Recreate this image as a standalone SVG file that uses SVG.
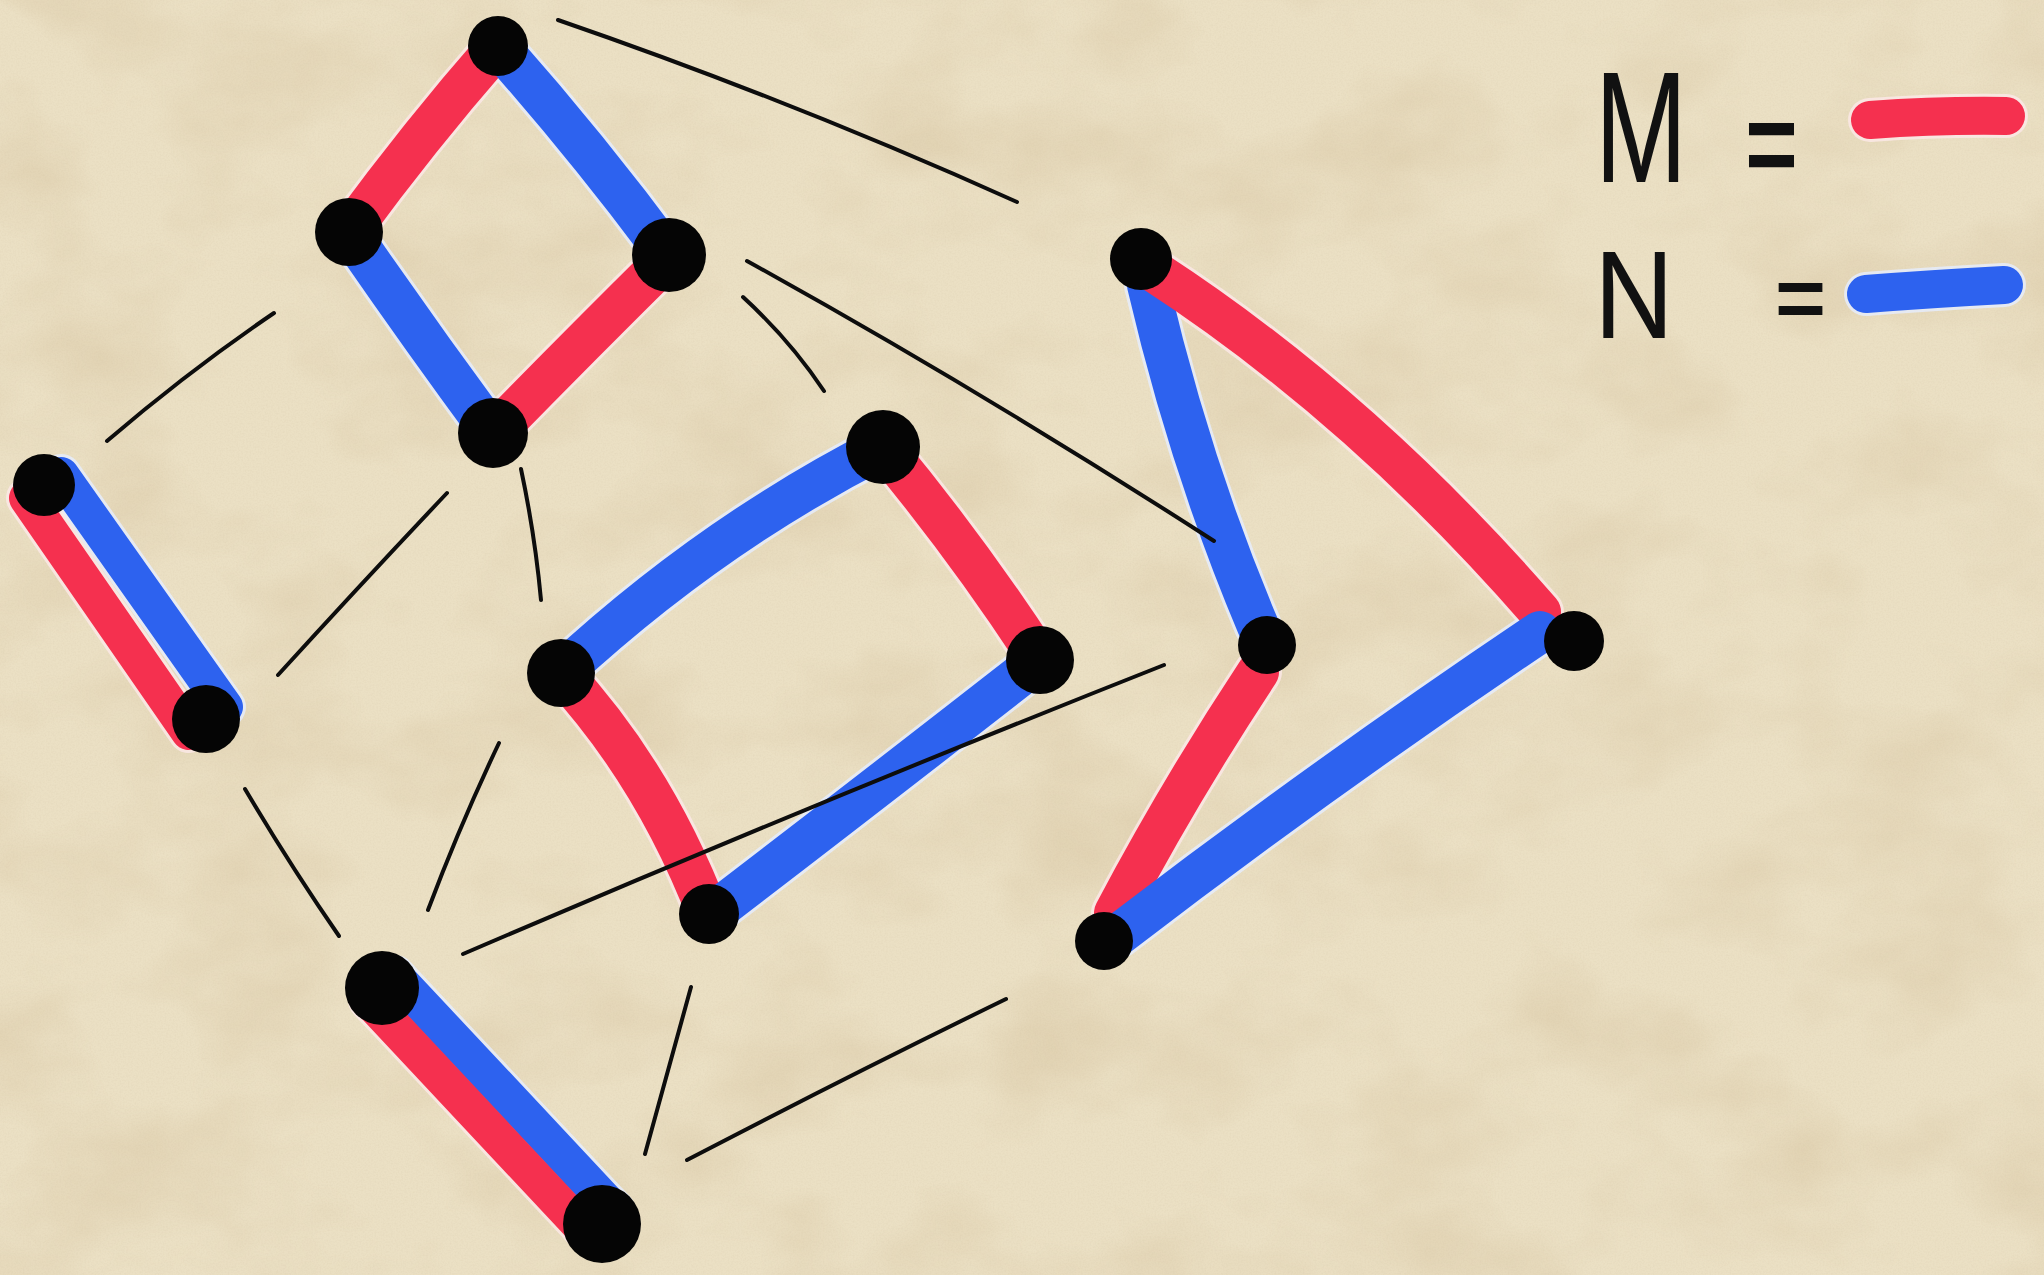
<svg xmlns="http://www.w3.org/2000/svg" width="2044" height="1275" viewBox="0 0 2044 1275">
<defs>
<filter id="paper" x="0" y="0" width="100%" height="100%">
<feTurbulence type="fractalNoise" baseFrequency="0.006 0.009" numOctaves="4" seed="7"/>
<feColorMatrix type="matrix" values="0 0 0 0 0.70  0 0 0 0 0.58  0 0 0 0 0.38  0 0 0 1.2 -0.5"/>
</filter>
<filter id="grain" x="0" y="0" width="100%" height="100%">
<feTurbulence type="fractalNoise" baseFrequency="0.6" numOctaves="2" seed="2"/>
<feColorMatrix type="matrix" values="0 0 0 0 0.55  0 0 0 0 0.45  0 0 0 0 0.3  0 0 0 0.5 -0.2"/>
</filter>
<style>
.red{fill:none;stroke:#f5304f;stroke-width:42;stroke-linecap:round;stroke-linejoin:round}
.blue{fill:none;stroke:#2d62ef;stroke-width:42;stroke-linecap:round;stroke-linejoin:round}
.rh{fill:none;stroke:#fde8e8;stroke-opacity:0.8;stroke-width:48;stroke-linecap:round}
.bh{fill:none;stroke:#e6eeff;stroke-opacity:0.8;stroke-width:48;stroke-linecap:round}
.dbl{stroke-width:36}
.dblh{stroke-width:42}
.thin{fill:none;stroke:#0d0d0d;stroke-width:4;stroke-linecap:round}
.dot{fill:#050505}
.lbl{font-family:Inter,"DejaVu Sans","Liberation Sans",sans-serif;font-weight:400;fill:#111}
</style>
</defs>
<rect width="2044" height="1275" fill="#ebe0c4"/>
<rect width="2044" height="1275" filter="url(#paper)"/>
<rect width="2044" height="1275" filter="url(#grain)" opacity="0.5"/>

<g id="connectors">
<!-- halos -->
<path class="rh" d="M498,46 Q420,135 349,232"/>
<path class="bh" d="M498,46 Q590,150 669,257"/>
<path class="bh" d="M349,232 Q420,335 493,434"/>
<path class="rh" d="M669,257 Q585,340 493,434"/>
<path class="bh dblh" d="M61,475 L225,707"/>
<path class="rh dblh" d="M27,498 L189,732"/>
<path class="bh" d="M883,447 Q710,535 561,673"/>
<path class="rh" d="M883,447 Q967,548 1040,660"/>
<path class="rh" d="M561,673 Q655,775 709,916"/>
<path class="bh" d="M1040,660 Q880,785 709,916"/>
<path class="bh dblh" d="M395,976 L615,1211"/>
<path class="rh dblh" d="M369,1000 L589,1235"/>
<path class="bh" d="M1148,285 Q1190,465 1258,626"/>
<path class="rh" d="M1152,270 Q1360,405 1540,612"/>
<path class="rh" d="M1258,672 Q1180,790 1115,913"/>
<path class="bh" d="M1540,632 Q1320,780 1118,935"/>
<!-- coloured edges -->
<path class="red" d="M498,46 Q420,135 349,232"/>
<path class="blue" d="M498,46 Q590,150 669,257"/>
<path class="blue" d="M349,232 Q420,335 493,434"/>
<path class="red" d="M669,257 Q585,340 493,434"/>
<path class="blue dbl" d="M61,475 L225,707"/>
<path class="red dbl" d="M27,498 L189,732"/>
<path class="blue" d="M883,447 Q710,535 561,673"/>
<path class="red" d="M883,447 Q967,548 1040,660"/>
<path class="red" d="M561,673 Q655,775 709,916"/>
<path class="blue" d="M1040,660 Q880,785 709,916"/>
<path class="blue dbl" d="M395,976 L615,1211"/>
<path class="red dbl" d="M369,1000 L589,1235"/>
<path class="blue" d="M1148,285 Q1190,465 1258,626"/>
<path class="red" d="M1152,270 Q1360,405 1540,612"/>
<path class="red" d="M1258,672 Q1180,790 1115,913"/>
<path class="blue" d="M1540,632 Q1320,780 1118,935"/>
<!-- thin black connectors -->
<path class="thin" d="M558,20 Q790,100 1017,202"/>
<path class="thin" d="M274,313 Q190,370 107,441"/>
<path class="thin" d="M747,261 Q980,390 1214,541"/>
<path class="thin" d="M743,297 Q790,340 824,391"/>
<path class="thin" d="M447,493 Q360,585 278,675"/>
<path class="thin" d="M521,469 Q535,535 541,600"/>
<path class="thin" d="M245,789 Q290,865 339,936"/>
<path class="thin" d="M499,743 Q460,825 428,910"/>
<path class="thin" d="M463,954 Q810,805 1164,665"/>
<path class="thin" d="M691,987 Q668,1070 645,1154"/>
<path class="thin" d="M687,1160 Q850,1075 1006,999"/>
</g>

<g id="node-a"><circle class="dot" cx="498" cy="46" r="30"/></g>
<g id="node-b"><circle class="dot" cx="349" cy="232" r="34"/></g>
<g id="node-c"><circle class="dot" cx="669" cy="255" r="37"/></g>
<g id="node-d"><circle class="dot" cx="493" cy="433" r="35"/></g>
<g id="node-e"><circle class="dot" cx="44" cy="485" r="31"/></g>
<g id="node-f"><circle class="dot" cx="206" cy="719" r="34"/></g>
<g id="node-g"><circle class="dot" cx="883" cy="447" r="37"/></g>
<g id="node-h"><circle class="dot" cx="561" cy="673" r="34"/></g>
<g id="node-i"><circle class="dot" cx="1040" cy="660" r="34"/></g>
<g id="node-j"><circle class="dot" cx="709" cy="914" r="30"/></g>
<g id="node-k"><circle class="dot" cx="382" cy="988" r="37"/></g>
<g id="node-l"><circle class="dot" cx="602" cy="1224" r="39"/></g>
<g id="node-m"><circle class="dot" cx="1141" cy="259" r="31"/></g>
<g id="node-n"><circle class="dot" cx="1267" cy="645" r="29"/></g>
<g id="node-o"><circle class="dot" cx="1574" cy="641" r="30"/></g>
<g id="node-p"><circle class="dot" cx="1104" cy="941" r="29"/></g>

<g id="legend">
<text class="lbl" transform="translate(1595,182) scale(0.68,1)" font-size="150">M <tspan x="210" font-size="150" dy="6">=</tspan></text>
<path class="rh" d="M1870,120 Q1940,115 2006,116" style="stroke-width:44"/>
<path class="red" d="M1870,120 Q1940,115 2006,116" style="stroke-width:38"/>
<text class="lbl" transform="translate(1594,338) scale(0.9,1)" font-size="118">N <tspan x="193" font-size="110" dy="-8">=</tspan></text>
<path class="bh" d="M1866,294 Q1930,289 2004,285" style="stroke-width:44"/>
<path class="blue" d="M1866,294 Q1930,289 2004,285" style="stroke-width:38"/>
</g>
</svg>
